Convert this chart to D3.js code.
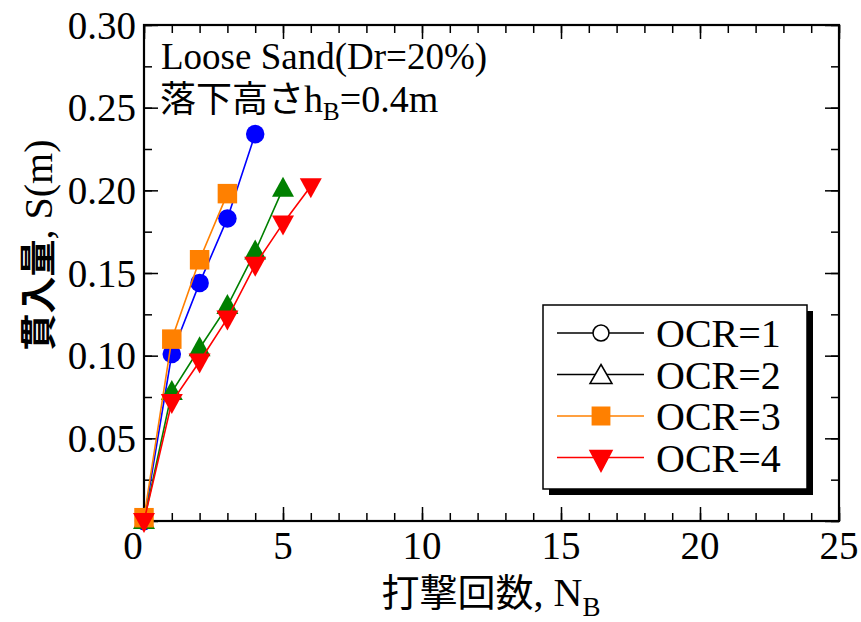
<!DOCTYPE html>
<html><head><meta charset="utf-8">
<script src="https://cdn.jsdelivr.net/npm/d3@7"></script>
<style>
html,body{margin:0;padding:0;background:#fff;}
svg{display:block;}
</style></head>
<body>
<svg id="chart" width="861" height="622"></svg>
<script>
// ---- data ----
const seriesNames = ["OCR=1", "OCR=2", "OCR=3", "OCR=4"];
const nbOCR1 = [0, 1, 2, 3, 4];
const sOCR1 = [0, 0.101, 0.144, 0.183, 0.234];
const nbOCR2 = [0, 1, 2, 3, 4, 5];
const sOCR2 = [0, 0.078, 0.1045, 0.130, 0.163, 0.201];
const nbOCR3 = [0, 1, 2, 3];
const sOCR3 = [0.002, 0.110, 0.158, 0.198];
const nbOCR4 = [0, 1, 2, 3, 4, 5, 6];
const sOCR4 = [0, 0.072, 0.0965, 0.1225, 0.155, 0.180, 0.2025];
const xTickValues = [0, 5, 10, 15, 20, 25];
const yTickValues = [0.05, 0.10, 0.15, 0.20, 0.25, 0.30];
const annotation1 = "Loose Sand(Dr=20%)";
const yTitleJa = "貫入量";
const yTitleEn = ", S(m)";

const series = [
  {name: seriesNames[0], x: nbOCR1, y: sOCR1, color: "#0000ff", shape: "circle", legColor: "#000", legFill: "#fff"},
  {name: seriesNames[1], x: nbOCR2, y: sOCR2, color: "#008000", shape: "up", legColor: "#000", legFill: "#fff"},
  {name: seriesNames[2], x: nbOCR3, y: sOCR3, color: "#ff8000", shape: "square", legColor: "#ff8000", legFill: "#ff8000"},
  {name: seriesNames[3], x: nbOCR4, y: sOCR4, color: "#ff0000", shape: "down", legColor: "#ff0000", legFill: "#ff0000"}
];

const serif = "'Liberation Serif','Times New Roman',serif";
const cjk = "'Noto Sans CJK JP','Noto Sans CJK SC',sans-serif";

const svg = d3.select("#chart");
const L = 144, R = 839, T = 25, B = 521;
const x = d3.scaleLinear().domain([0, 25]).range([L, R]);
const y = d3.scaleLinear().domain([0, 0.30]).range([B, T]);

function tickAxis(axisGen, transform) {
  const g = svg.append("g").attr("transform", transform).call(axisGen);
  g.select(".domain").remove();
  g.selectAll("line").attr("stroke", "#000").attr("stroke-width", 1.5);
  g.selectAll("text").remove();
  return g;
}
const MAJ = 14, MIN = 8;
tickAxis(d3.axisBottom(x).tickValues(d3.range(0, 26, 5)).tickSize(-MAJ), `translate(0,${B})`);
tickAxis(d3.axisBottom(x).tickValues(d3.range(0, 26, 1)).tickSize(-MIN), `translate(0,${B})`);
tickAxis(d3.axisTop(x).tickValues(d3.range(0, 26, 5)).tickSize(-MAJ), `translate(0,${T})`);
tickAxis(d3.axisTop(x).tickValues(d3.range(0, 26, 1)).tickSize(-MIN), `translate(0,${T})`);
tickAxis(d3.axisLeft(y).tickValues(d3.range(0, 0.3001, 0.05)).tickSize(-MAJ), `translate(${L},0)`);
tickAxis(d3.axisLeft(y).tickValues(d3.range(0, 0.3001, 0.025)).tickSize(-MIN), `translate(${L},0)`);
tickAxis(d3.axisRight(y).tickValues(d3.range(0, 0.3001, 0.05)).tickSize(-MAJ), `translate(${R},0)`);
tickAxis(d3.axisRight(y).tickValues(d3.range(0, 0.3001, 0.025)).tickSize(-MIN), `translate(${R},0)`);

svg.append("rect").attr("x", L).attr("y", T).attr("width", R - L).attr("height", B - T)
  .attr("fill", "none").attr("stroke", "#000").attr("stroke-width", 2.2);

// tick labels
svg.append("g").selectAll("text").data(xTickValues).join("text")
  .attr("x", d => x(d) + (d === 0 ? -11 : 0)).attr("y", 559)
  .attr("text-anchor", "middle").attr("font-family", serif).attr("font-size", 39)
  .text(d => d3.format("d")(d));
svg.append("g").selectAll("text").data(yTickValues).join("text")
  .attr("x", 136).attr("y", d => y(d)).attr("dy", "0.35em")
  .attr("text-anchor", "end").attr("font-family", serif).attr("font-size", 39)
  .text(d => d3.format(".2f")(d));

// axis titles
const xt = svg.append("text").attr("x", 491).attr("y", 606).attr("text-anchor", "middle")
  .attr("font-size", 40);
xt.append("tspan").attr("font-family", cjk).attr("font-size", 38).text("打撃回数");
xt.append("tspan").attr("font-family", serif).text(", N");
xt.append("tspan").attr("font-family", serif).attr("font-size", 27).attr("dy", 10).text("B");

const yt = svg.append("text").attr("transform", "translate(52,245) rotate(-90)")
  .attr("text-anchor", "middle").attr("font-size", 40);
yt.append("tspan").attr("font-family", cjk).attr("font-weight", "bold").attr("font-size", 37).text(yTitleJa);
yt.append("tspan").attr("font-family", serif).text(yTitleEn);

// annotation
svg.append("text").attr("x", 161).attr("y", 69).attr("font-family", serif).attr("font-size", 37).text(annotation1);
const a2 = svg.append("text").attr("x", 160).attr("y", 112).attr("font-size", 38);
a2.append("tspan").attr("font-family", cjk).attr("font-size", 36).text("落下高さ");
a2.append("tspan").attr("font-family", serif).text("h");
a2.append("tspan").attr("font-family", serif).attr("font-size", 25).attr("dy", 8).text("B");
a2.append("tspan").attr("font-family", serif).attr("dy", -8).text("=0.4m");

function symbolPath(shape) {
  if (shape === "circle") return d3.symbol(d3.symbolCircle, 270)();
  if (shape === "square") return d3.symbol(d3.symbolSquare, 380)();
  if (shape === "up") return "M0,-12L11,8L-11,8Z";
  return "M0,12L11,-8L-11,-8Z";
}

const line = d3.line();
series.forEach(s => {
  const pts = s.x.map((v, i) => [x(v), y(s.y[i])]);
  const g = svg.append("g");
  g.append("path").attr("d", line(pts)).attr("fill", "none").attr("stroke", s.color).attr("stroke-width", 1.6);
  g.selectAll("path.m").data(pts).join("path").attr("class", "m")
    .attr("transform", d => `translate(${d[0]},${d[1]})`)
    .attr("d", symbolPath(s.shape)).attr("fill", s.color);
});

// legend
const lg = svg.append("g");
const lx = 543, ly = 305, lw = 264, lh = 184;
lg.append("rect").attr("x", lx + 6).attr("y", ly + 6).attr("width", lw).attr("height", lh).attr("fill", "#000");
lg.append("rect").attr("x", lx).attr("y", ly).attr("width", lw).attr("height", lh).attr("fill", "#fff").attr("stroke", "#000").attr("stroke-width", 1.5);
series.forEach((s, i) => {
  const cy = 333 + i * 41.5;
  lg.append("line").attr("x1", 557).attr("x2", 644).attr("y1", cy).attr("y2", cy).attr("stroke", s.legColor).attr("stroke-width", 1.6);
  let d;
  if (s.shape === "circle") d = d3.symbol(d3.symbolCircle, 200)();
  else if (s.shape === "square") d = d3.symbol(d3.symbolSquare, 300)();
  else if (s.shape === "up") d = "M0,-10L11,9L-11,9Z";
  else d = "M0,14L11,-7L-11,-7Z";
  lg.append("path").attr("d", d).attr("transform", `translate(601,${cy})`)
    .attr("fill", s.legFill).attr("stroke", s.legColor).attr("stroke-width", 1.5);
  lg.append("text").attr("x", 656).attr("y", cy).attr("dy", "0.35em")
    .attr("font-family", serif).attr("font-size", 40).text(s.name);
});
</script>
</body></html>
